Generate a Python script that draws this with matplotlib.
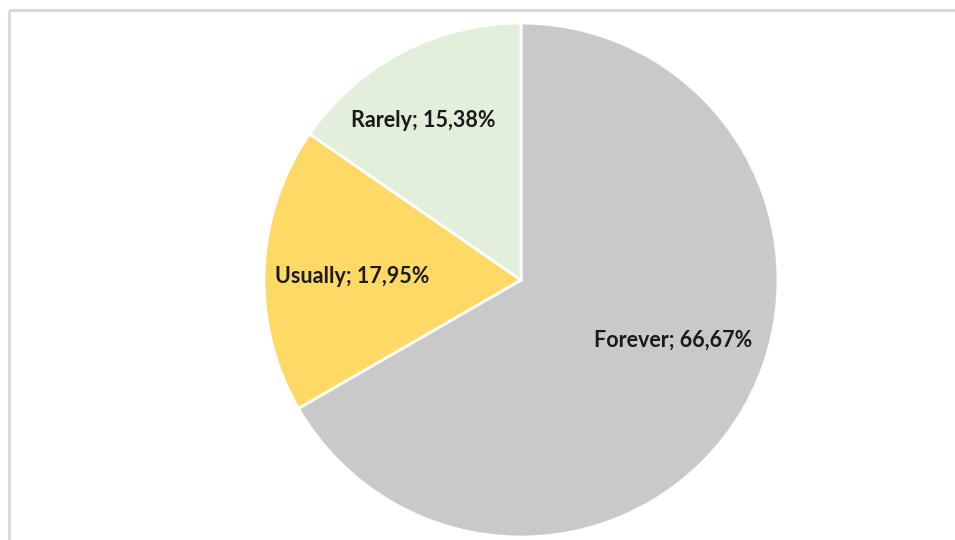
import matplotlib
matplotlib.use("Agg")
import matplotlib.pyplot as plt
from matplotlib.lines import Line2D
import numpy as np

categories = ["Forever", "Usually", "Rarely"]
values = [66.67, 17.95, 15.38]
colors = ["#C9C9C9", "#FFD966", "#E2EFDA"]
label_texts = ["Forever; 66,67%", "Usually; 17,95%", "Rarely; 15,38%"]

fig = plt.figure(figsize=(9.55, 5.4), dpi=100)
fig.patch.set_facecolor("white")

W, H = 955, 540
cx, cy, r = 521, 280, 257
ax = fig.add_axes([(cx - r) / W, (H - cy - r) / H, 2 * r / W, 2 * r / H])
wedges, _ = ax.pie(values, colors=colors, startangle=90, counterclock=False,
                   radius=1.0, wedgeprops=dict(edgecolor="white", linewidth=2.0))
ax.set_xlim(-1, 1)
ax.set_ylim(-1, 1)
ax.set_aspect("equal")
ax.axis("off")

# label placement (radial fraction, angle offset in degrees)
place = [(0.635, 8.5), (0.658, 1.0), (0.727, 3.9)]
for w, txt, (rf, dang) in zip(wedges, label_texts, place):
    ang = np.deg2rad((w.theta1 + w.theta2) / 2 + dang)
    ax.text(rf * np.cos(ang), rf * np.sin(ang), txt, ha="center", va="center",
            fontsize=15.5, fontweight="bold", family=["Lato", "DejaVu Sans"], color="#1a1a1a")

# chart border (top and left visible)
bc = "#D9D9D9"
fig.add_artist(Line2D([9 / W, 1.0], [1 - 10 / H, 1 - 10 / H], transform=fig.transFigure,
                      color=bc, linewidth=2.2, solid_capstyle="butt"))
fig.add_artist(Line2D([9 / W, 9 / W], [0.0, 1 - 10 / H], transform=fig.transFigure,
                      color=bc, linewidth=2.2, solid_capstyle="butt"))

fig.savefig("out.png", dpi=100, facecolor="white")
